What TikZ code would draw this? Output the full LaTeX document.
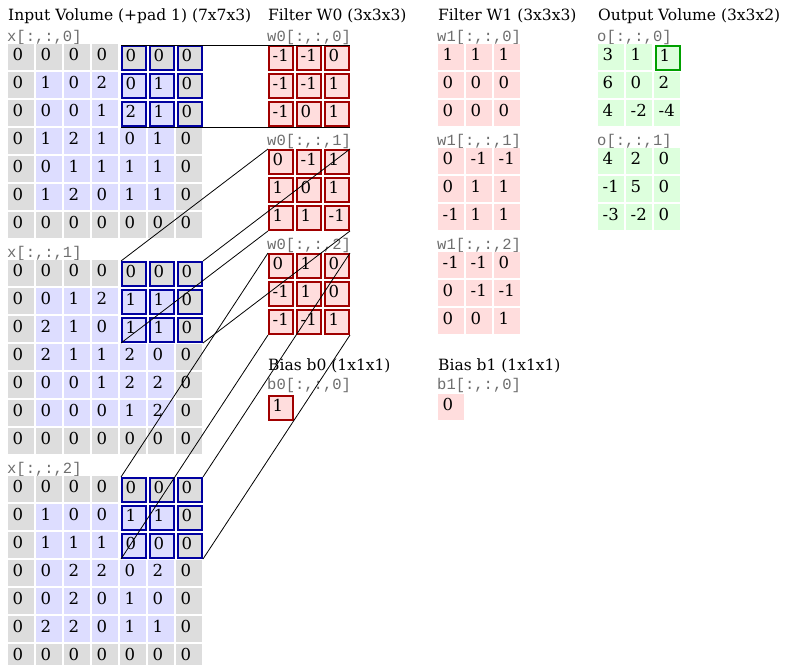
\documentclass[tikz,border=0pt]{standalone}
\usepackage{fontspec}
\setmainfont{DejaVu Serif}
\newfontfamily\monof{Liberation Mono}
\definecolor{padgray}{RGB}{221,221,221}
\definecolor{inblue}{RGB}{221,221,255}
\definecolor{wred}{RGB}{255,221,221}
\definecolor{ogreen}{RGB}{221,255,221}
\definecolor{hlblue}{RGB}{0,0,160}
\definecolor{hlred}{RGB}{160,0,0}
\definecolor{hlgreen}{RGB}{0,160,0}
\definecolor{labgray}{RGB}{110,110,110}
\tikzset{
  cellbox/.style={rectangle, minimum width=26pt, minimum height=26pt, inner sep=0pt, outer sep=0pt, anchor=north west},
  hlbox/.style={rectangle, minimum width=24pt, minimum height=24pt, inner sep=0pt, outer sep=1pt, anchor=north west, line width=2pt},
  numtxt/.style={anchor=base west, inner sep=0pt, font=\fontsize{16.5}{19}\selectfont},
  titletxt/.style={anchor=base west, inner sep=0pt, font=\fontsize{15.5}{18}\selectfont},
  labtxt/.style={anchor=base west, inner sep=0pt, text=labgray, font=\monof\fontsize{15.5}{18}\selectfont},
  conn/.style={draw=black, line width=0.8pt},
}
\newcommand\plaincell[5]{%
  \node[cellbox, fill=#5] (#1) at (#2,#3) {};
  \node[numtxt] at ([xshift=4.5pt,yshift=9.5pt]#1.south west) {#4};}
\newcommand\hlcell[6]{%
  \node[hlbox, fill=#5, draw=#6] (#1) at ({#2+1},{#3+1}) {};
  \node[numtxt] at ([xshift=4.5pt,yshift=9.5pt]#1.south west) {#4};}
% input slice: name, top, rows
\newcommand\inputslice[3]{%
  \foreach \row [count=\rr from 0] in {#3} {
    \foreach \val [count=\cc from 0] in \row {
      \pgfmathsetmacro\cx{8+28*\cc}
      \pgfmathsetmacro\cy{#2+28*\rr}
      \pgfmathtruncatemacro\pad{(\rr==0)||(\rr==6)||(\cc==0)||(\cc==6)}
      \ifnum\pad=1 \def\cf{padgray}\else\def\cf{inblue}\fi
      \pgfmathtruncatemacro\hl{(\rr<3)&&(\cc>3)}
      \ifnum\hl=1
        \hlcell{#1-\rr-\cc}{\cx}{\cy}{\val}{\cf}{hlblue}
      \else
        \plaincell{#1-\rr-\cc}{\cx}{\cy}{\val}{\cf}
      \fi
    }
  }}
% small grid: name, x, top, rows, fill, border, condition
\newcommand\smallgrid[7]{%
  \foreach \row [count=\rr from 0] in {#4} {
    \foreach \val [count=\cc from 0] in \row {
      \pgfmathsetmacro\cx{#2+28*\cc}
      \pgfmathsetmacro\cy{#3+28*\rr}
      \pgfmathtruncatemacro\hl{#7}
      \ifnum\hl=1
        \hlcell{#1-\rr-\cc}{\cx}{\cy}{\val}{#5}{#6}
      \else
        \plaincell{#1-\rr-\cc}{\cx}{\cy}{\val}{#5}
      \fi
    }
  }}
\begin{document}
\begin{tikzpicture}[x=1pt,y=-1pt]
\useasboundingbox[fill=white] (0,0) rectangle (795,664);
% titles
\node[titletxt] (tin) at (8,20) {Input Volume (+pad 1) (7x7x3)};
\node[titletxt] (tw0) at (268,20) {Filter W0 (3x3x3)};
\node[titletxt] (tw1) at (438,20) {Filter W1 (3x3x3)};
\node[titletxt] (tout) at (598,20) {Output Volume (3x3x2)};
% input labels
\node[labtxt] (lx0) at (7,41) {x[:,:,0]};
\node[labtxt] (lx1) at (7,257) {x[:,:,1]};
\node[labtxt] (lx2) at (7,473) {x[:,:,2]};
\inputslice{inA}{44}{{0,0,0,0,0,0,0},{0,1,0,2,0,1,0},{0,0,0,1,2,1,0},{0,1,2,1,0,1,0},{0,0,1,1,1,1,0},{0,1,2,0,1,1,0},{0,0,0,0,0,0,0}}
\inputslice{inB}{260}{{0,0,0,0,0,0,0},{0,0,1,2,1,1,0},{0,2,1,0,1,1,0},{0,2,1,1,2,0,0},{0,0,0,1,2,2,0},{0,0,0,0,1,2,0},{0,0,0,0,0,0,0}}
\inputslice{inC}{476}{{0,0,0,0,0,0,0},{0,1,0,0,1,1,0},{0,1,1,1,0,0,0},{0,0,2,2,0,2,0},{0,0,2,0,1,0,0},{0,2,2,0,1,1,0},{0,0,0,0,0,0,0}}
% filter W0
\node[labtxt] (lwa0) at (267,41) {w0[:,:,0]};
\node[labtxt] (lwa1) at (267,145) {w0[:,:,1]};
\node[labtxt] (lwa2) at (267,249) {w0[:,:,2]};
\smallgrid{wA}{267}{44}{{-1,-1,0},{-1,-1,1},{-1,0,1}}{wred}{hlred}{1}
\smallgrid{wB}{267}{148}{{0,-1,1},{1,0,1},{1,1,-1}}{wred}{hlred}{1}
\smallgrid{wC}{267}{252}{{0,1,0},{-1,1,0},{-1,-1,1}}{wred}{hlred}{1}
% filter W1
\node[labtxt] (lwb0) at (437,41) {w1[:,:,0]};
\node[labtxt] (lwb1) at (437,145) {w1[:,:,1]};
\node[labtxt] (lwb2) at (437,249) {w1[:,:,2]};
\smallgrid{vA}{438}{44}{{1,1,1},{0,0,0},{0,0,0}}{wred}{hlred}{0}
\smallgrid{vB}{438}{148}{{0,-1,-1},{0,1,1},{-1,1,1}}{wred}{hlred}{0}
\smallgrid{vC}{438}{252}{{-1,-1,0},{0,-1,-1},{0,0,1}}{wred}{hlred}{0}
% output
\node[labtxt] (loa) at (597,41) {o[:,:,0]};
\node[labtxt] (lob) at (597,145) {o[:,:,1]};
\smallgrid{oA}{598}{44}{{3,1,1},{6,0,2},{4,-2,-4}}{ogreen}{hlgreen}{(\rr==0)&&(\cc==2)}
\smallgrid{oB}{598}{148}{{4,2,0},{-1,5,0},{-3,-2,0}}{ogreen}{hlgreen}{0}
% biases
\node[titletxt] (tb0) at (268,370) {Bias b0 (1x1x1)};
\node[titletxt] (tb1) at (438,370) {Bias b1 (1x1x1)};
\node[labtxt] (lb0) at (267,389) {b0[:,:,0]};
\node[labtxt] (lb1) at (437,389) {b1[:,:,0]};
\hlcell{bA}{267}{394}{1}{wred}{hlred}
\plaincell{bB}{438}{394}{0}{wred}
% connectors
\foreach \s/\w in {inA/wA, inB/wB, inC/wC} {
  \draw[conn] (\s-0-4.north west) -- (\w-0-0.north west);
  \draw[conn] (\s-0-6.north east) -- (\w-0-2.north east);
  \draw[conn] (\s-2-4.south west) -- (\w-2-0.south west);
  \draw[conn] (\s-2-6.south east) -- (\w-2-2.south east);
}
\end{tikzpicture}
\end{document}
